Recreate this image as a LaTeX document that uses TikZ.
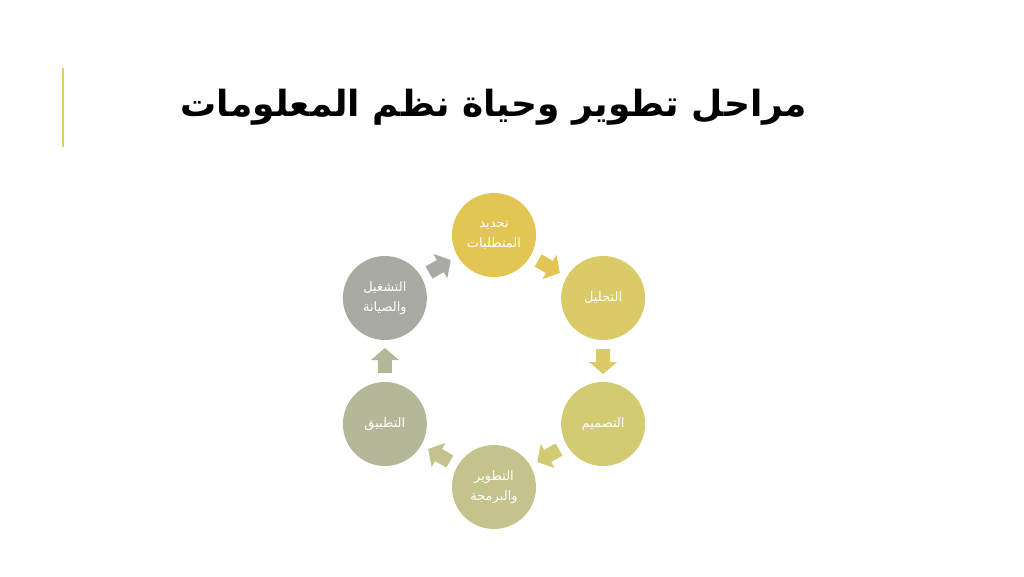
\documentclass[tikz,border=0pt]{standalone}
\usepackage{fontspec}
\newfontfamily\arabicfont[Script=Arabic]{DejaVu Sans}
\TeXXeTstate=1
\usetikzlibrary{calc}
\definecolor{stagea}{RGB}{226,197,82}
\definecolor{stageb}{RGB}{218,203,104}
\definecolor{stagec}{RGB}{210,203,113}
\definecolor{staged}{RGB}{197,195,140}
\definecolor{stagee}{RGB}{182,183,153}
\definecolor{stagef}{RGB}{170,170,165}
\definecolor{titlebar}{RGB}{226,206,104}
\tikzset{
	stage/.style={circle, minimum size=84pt, inner sep=0pt, text=white,
		align=center, font=\arabicfont\fontsize{13}{20}\selectfont},
	flowarrow/.pic={\path[pic actions] (-12,-7) -- (1,-7) -- (1,-14) -- (13,0)
		-- (1,14) -- (1,7) -- (-12,7) -- cycle;}
}
\begin{document}
\begin{tikzpicture}[x=1pt, y=1pt]
	\useasboundingbox (0,0) rectangle (1024,-576);
	% title
	\draw[titlebar, line width=2pt] (63,-68) -- (63,-147);
	\node (title) at (494,-107) {\arabicfont\bfseries\fontsize{36}{42}\selectfont
		\beginR مراحل تطوير وحياة نظم المعلومات\endR};
	% cycle
	\coordinate (centre) at (494,-361);
	\node[stage, fill=stagea] (req) at ($(centre)+(90:126)$)
		{\beginR تحديد\endR\\\beginR المتطلبات\endR};
	\node[stage, fill=stageb] (ana) at ($(centre)+(30:126)$)
		{\beginR التحليل\endR};
	\node[stage, fill=stagec] (des) at ($(centre)+(-30:126)$)
		{\beginR التصميم\endR};
	\node[stage, fill=staged] (dev) at ($(centre)+(-90:126)$)
		{\beginR التطوير\endR\\\beginR والبرمجة\endR};
	\node[stage, fill=stagee] (imp) at ($(centre)+(-150:126)$)
		{\beginR التطبيق\endR};
	\node[stage, fill=stagef] (ops) at ($(centre)+(150:126)$)
		{\beginR التشغيل\endR\\\beginR والصيانة\endR};
	% arrows
	\foreach \from/\to/\ang/\col in {req/ana/-30/stagea, ana/des/-90/stageb,
		des/dev/-150/stagec, dev/imp/150/staged, imp/ops/90/stagee, ops/req/30/stagef}
		\pic[fill=\col, rotate=\ang] at ($(\from)!0.5!(\to)$) {flowarrow};
\end{tikzpicture}
\end{document}
